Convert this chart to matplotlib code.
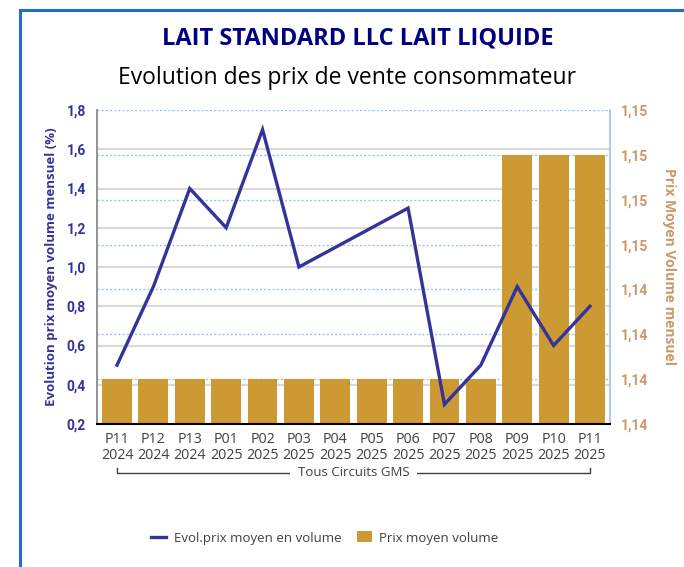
import numpy as np
import matplotlib
matplotlib.use("Agg")
import matplotlib.pyplot as plt
from matplotlib.transforms import blended_transform_factory
from matplotlib.lines import Line2D
from matplotlib.patches import Patch

# data
periods = ["P11", "P12", "P13", "P01", "P02", "P03", "P04", "P05", "P06", "P07", "P08", "P09", "P10", "P11"]
years = ["2024", "2024", "2024", "2025", "2025", "2025", "2025", "2025", "2025", "2025", "2025", "2025", "2025", "2025"]
evol_pct = [0.5, 0.9, 1.4, 1.2, 1.7, 1.0, 1.1, 1.2, 1.3, 0.3, 0.5, 0.9, 0.6, 0.8]
prix_moyen = [1.143, 1.143, 1.143, 1.143, 1.143, 1.143, 1.143, 1.143, 1.143, 1.143, 1.143, 1.148, 1.148, 1.148]

left_ticks = [0.2, 0.4, 0.6, 0.8, 1.0, 1.2, 1.4, 1.6, 1.8]
left_labels = ["0,2", "0,4", "0,6", "0,8", "1,0", "1,2", "1,4", "1,6", "1,8"]
right_ticks = [1.142, 1.143, 1.144, 1.145, 1.146, 1.147, 1.148, 1.149]
right_labels = ["1,14", "1,14", "1,14", "1,14", "1,15", "1,15", "1,15", "1,15"]

LINE_C = "#333399"
BAR_C = "#CC9933"
TAN = "#C9996A"
NAVY = "#000080"
FONT = "Roboto"
FONT2 = "Open Sans"

fig = plt.figure(figsize=(6.84, 5.67), dpi=100)
fig.patch.set_facecolor("white")

# blue frame (top and left only)
fig.add_artist(Line2D([20 / 684, 1], [1 - 10 / 567, 1 - 10 / 567], color="#1F6FC5", lw=2.2))
fig.add_artist(Line2D([20 / 684, 20 / 684], [0, 1 - 10 / 567], color="#1F6FC5", lw=2.2))

ax = fig.add_axes([97 / 684, 1 - 424 / 567, 513 / 684, 314 / 567])
ax2 = ax.twinx()
ax.set_zorder(2)
ax2.set_zorder(1)
ax.patch.set_visible(False)

x = np.arange(len(periods))

# bars (right axis)
ax2.bar(x, prix_moyen, width=0.82, color=BAR_C, zorder=3)
ax2.set_ylim(right_ticks[0], right_ticks[-1])
ax2.set_yticks(right_ticks)
ax2.set_yticklabels(right_labels)
ax2.grid(axis="y", color="#9DC3E6", linestyle=(0, (1.5, 1.5)), lw=1.0, zorder=1)
ax2.set_axisbelow(True)

# gray gridlines of the left axis, drawn behind the bars
tr = blended_transform_factory(ax2.transAxes, ax.transData)
for v in left_ticks[1:-1]:
    ax2.plot([0, 1], [v, v], transform=tr, color="#D9D9D9", lw=1.5, zorder=0.5)

# line (left axis)
ax.plot(x, evol_pct, color=LINE_C, lw=2.4, zorder=5, solid_joinstyle="miter")
ax.set_ylim(left_ticks[0], left_ticks[-1])
ax.set_yticks(left_ticks)
ax.set_yticklabels(left_labels)
ax.set_xlim(-0.55, len(periods) - 0.45)
ax.set_xticks(x)
ax.set_xticklabels([p + "\n" + y for p, y in zip(periods, years)])

for a in (ax, ax2):
    for s in a.spines.values():
        s.set_visible(False)
    a.tick_params(length=0)
ax.spines["left"].set_visible(True)
ax.spines["left"].set_color("#808080")
ax.spines["left"].set_linewidth(1.2)
ax.spines["bottom"].set_visible(True)
ax.spines["bottom"].set_color("black")
ax.spines["bottom"].set_linewidth(1.5)
ax2.spines["right"].set_visible(True)
ax2.spines["right"].set_color("#9DC3E6")
ax2.spines["right"].set_linewidth(1.2)

for lab in ax.get_yticklabels():
    lab.set_fontfamily(FONT)
    lab.set_fontweight("bold")
    lab.set_fontsize(10)
    lab.set_color(LINE_C)
for lab in ax2.get_yticklabels():
    lab.set_fontfamily(FONT)
    lab.set_fontweight("bold")
    lab.set_fontsize(10)
    lab.set_color(TAN)
for lab in ax.get_xticklabels():
    lab.set_fontfamily(FONT2)
    lab.set_fontsize(10.3)
    lab.set_color("#404040")
    lab.set_linespacing(1.05)
ax.tick_params(axis="x", pad=6)
ax.tick_params(axis="y", pad=8)
ax2.tick_params(axis="y", pad=8)

ax.set_ylabel("Evolution prix moyen volume mensuel (%)", fontfamily=FONT2, fontweight="bold",
              fontsize=9.5, color=LINE_C, labelpad=6)
ax2.set_ylabel("Prix Moyen Volume mensuel", fontfamily=FONT2, fontweight="bold",
               fontsize=10, color=TAN, rotation=-90, labelpad=20)

# bracket with "Tous Circuits GMS"
bt = ax.get_xaxis_transform()
yb, yt = -0.156, -0.14
ax.plot([x[0], x[0], x[-1], x[-1]], [yt, yb, yb, yt], transform=bt, color="#404040",
        lw=1.0, clip_on=False)
ax.text((x[0] + x[-1]) / 2, yb, "  Tous Circuits GMS  ", transform=bt, ha="center", va="center",
        fontfamily=FONT2, fontsize=9.5, color="#404040",
        bbox=dict(facecolor="white", edgecolor="none", pad=0.5), zorder=6)

# titles
fig.text(0.523, 1 - 38 / 567, "LAIT STANDARD LLC LAIT LIQUIDE", ha="center", va="center",
         fontfamily=FONT2, fontweight="bold", fontsize=17, color=NAVY)
fig.text(0.508, 1 - 78 / 567, "Evolution des prix de vente consommateur", ha="center", va="center",
         fontfamily=FONT2, fontsize=16.5, color="black")

handles = [Line2D([0], [0], color=LINE_C, lw=2.4), Patch(facecolor=BAR_C)]
fig.legend(handles, ["Evol.prix moyen en volume", "Prix moyen volume"], loc="center",
           bbox_to_anchor=(0.475, 1 - 538 / 567), ncol=2, frameon=False,
           prop={"family": FONT2, "size": 9.5}, labelcolor="#404040",
           handlelength=1.1, handleheight=0.9, columnspacing=1.2, handletextpad=0.6)

fig.savefig("out.png", dpi=100)
